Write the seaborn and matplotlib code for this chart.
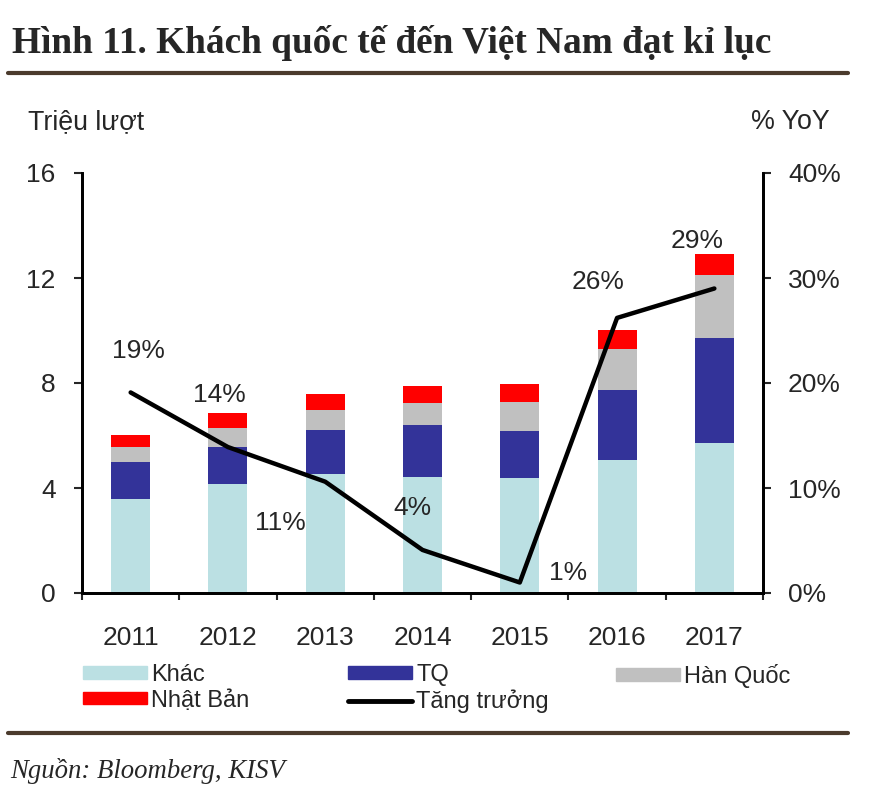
import numpy as np
import pandas as pd
import matplotlib
matplotlib.use("Agg")
import matplotlib.pyplot as plt
from matplotlib.patches import Patch
from matplotlib.lines import Line2D
import seaborn as sns

# Du lieu (trieu luot khach, % YoY)
nam = ["2011", "2012", "2013", "2014", "2015", "2016", "2017"]
khac = [3.59, 4.15, 4.52, 4.43, 4.39, 5.05, 5.71]
tq = [1.41, 1.42, 1.69, 1.96, 1.77, 2.68, 4.00]
han_quoc = [0.55, 0.72, 0.76, 0.85, 1.12, 1.55, 2.42]
nhat_ban = [0.47, 0.58, 0.61, 0.66, 0.67, 0.75, 0.78]
tang_truong = [19.1, 13.9, 10.6, 4.1, 1.0, 26.2, 29.0]
nhan_tt = ["19%", "14%", "11%", "4%", "1%", "26%", "29%"]

mau = {"Khác": "#BBE0E3", "TQ": "#333399", "Hàn Quốc": "#C0C0C0", "Nhật Bản": "#FF0000"}

df = pd.DataFrame({"nam": nam, "Khác": khac, "TQ": tq, "Hàn Quốc": han_quoc, "Nhật Bản": nhat_ban})
# cong don de ve cot chong
df["c1"] = df["Khác"]
df["c2"] = df["c1"] + df["TQ"]
df["c3"] = df["c2"] + df["Hàn Quốc"]
df["c4"] = df["c3"] + df["Nhật Bản"]

sns.set_style("white")
plt.rcParams["font.family"] = ["Liberation Sans", "DejaVu Sans"]

fig = plt.figure(figsize=(8.77, 7.90), dpi=100)
ax = fig.add_axes([82 / 877, 1 - 593 / 790, (763 - 82) / 877, (593 - 173) / 790])

for col, ten in [("c4", "Nhật Bản"), ("c3", "Hàn Quốc"), ("c2", "TQ"), ("c1", "Khác")]:
    sns.barplot(data=df, x="nam", y=col, color=mau[ten], width=0.4, saturation=1,
                linewidth=0, ax=ax)

ax.set_xlim(-0.5, 6.5)
ax.set_ylim(0, 16)
ax.set_yticks([0, 4, 8, 12, 16])
ax.set_xlabel("")
ax.set_ylabel("")

ax2 = ax.twinx()
sns.lineplot(x=np.arange(len(nam)), y=tang_truong, color="black", linewidth=3.2, ax=ax2)
ax2.set_ylim(0, 40)
ax2.set_yticks([0, 10, 20, 30, 40])
ax2.set_yticklabels(["0%", "10%", "20%", "30%", "40%"])
ax2.set_xlim(-0.5, 6.5)

# nhan % tang truong
lech = [(8, 41), (-9, 52), (-45, -41), (-10, 42), (48, 9), (-19, 36), (-17, 48)]
for i, (t, v) in enumerate(zip(nhan_tt, tang_truong)):
    ax2.annotate(t, xy=(i, v), xytext=lech[i], textcoords="offset pixels",
                 ha="center", va="center", fontsize=19)

for a in (ax, ax2):
    for s in a.spines.values():
        s.set_color("black")
        s.set_linewidth(2)
    a.spines["top"].set_visible(False)

ax.tick_params(axis="y", direction="out", length=6, width=1.5, pad=13, labelsize=19, left=True)
ax2.tick_params(axis="y", direction="out", length=6, width=1.5, pad=12, labelsize=19, right=True)
ax.set_xticks(np.arange(len(nam)))
ax.set_xticklabels(nam)
ax.tick_params(axis="x", length=0, pad=24, labelsize=19)
ax.set_xticks(np.arange(-0.5, 7, 1), minor=True)
ax.tick_params(axis="x", which="minor", direction="out", length=5, width=1.5, bottom=True)

# tieu de va chu thich
fig.text(12 / 877, 1 - 43 / 790, "Hình 11. Khách quốc tế đến Việt Nam đạt kỉ lục",
         family=["Liberation Serif", "DejaVu Serif"], fontweight="bold", fontsize=26.8, va="center")
fig.add_artist(Line2D([8 / 877, 848 / 877], [1 - 73 / 790] * 2, color="#4B3B2D", lw=3))
fig.add_artist(Line2D([8 / 877, 848 / 877], [1 - 733 / 790] * 2, color="#4B3B2D", lw=3))
fig.text(10 / 877, 1 - 771 / 790, "Nguồn: Bloomberg, KISV",
         family=["Liberation Serif", "DejaVu Serif"], style="italic", fontsize=19.3, va="center")
fig.text(28 / 877, 1 - 122 / 790, "Triệu lượt", fontsize=19.3, va="center")
fig.text(830 / 877, 1 - 122 / 790, "% YoY", fontsize=19.3, va="center", ha="right")

# chu giai: 3 cot
cot = [
    (83, [Patch(color=mau["Khác"]), Patch(color=mau["Nhật Bản"])], ["Khác", "Nhật Bản"]),
    (348, [Patch(color=mau["TQ"]), Line2D([], [], color="black", lw=3.5)], ["TQ", "Tăng trưởng"]),
    (616, [Patch(color=mau["Hàn Quốc"])], ["Hàn Quốc"]),
]
for x0, h, l in cot:
    leg = fig.legend(h, l, loc="upper left", bbox_to_anchor=(x0 / 877, 1 - 664 / 790),
                     frameon=False, fontsize=17, handlelength=2.7, handleheight=0.45,
                     handletextpad=0.2, labelspacing=0.15, borderpad=0, borderaxespad=0)

fig.savefig("out.png", dpi=100)
